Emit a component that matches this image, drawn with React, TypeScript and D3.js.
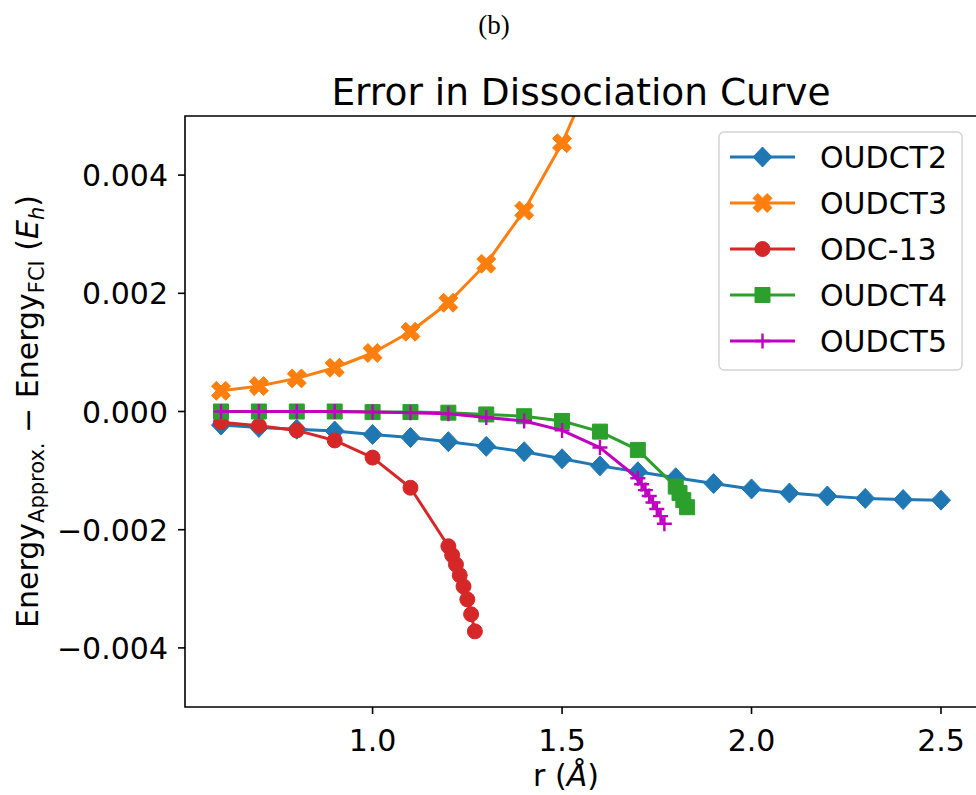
import React from 'react';
import * as d3 from 'd3';

const W = 976;
const H = 795;
const margin = { top: 116, right: -1, bottom: 88, left: 185 };

// r (Angstrom) grids
const rCoarse = [0.6, 0.7, 0.8, 0.9, 1.0, 1.1, 1.2, 1.3, 1.4, 1.5, 1.6, 1.7, 1.8, 1.9, 2.0, 2.1, 2.2, 2.3, 2.4, 2.5];

const oudct2 = [-0.00023, -0.00027, -0.0003, -0.00033, -0.00039, -0.00044, -0.00051, -0.00059, -0.00068, -0.0008,
  -0.00092, -0.00102, -0.00112, -0.00122, -0.00131, -0.00138, -0.00143, -0.00147, -0.00149, -0.0015];

const rOudct3 = [0.6, 0.7, 0.8, 0.9, 1.0, 1.1, 1.2, 1.3, 1.4, 1.5, 1.6];
const oudct3 = [0.00035, 0.00043, 0.00056, 0.00074, 0.00099, 0.00135, 0.00184, 0.0025, 0.0034, 0.00454, 0.006];

const rOdc13 = [0.6, 0.7, 0.8, 0.9, 1.0, 1.1, 1.2, 1.21, 1.22, 1.23, 1.24, 1.25, 1.26, 1.27];
const odc13 = [-0.00018, -0.00024, -0.00032, -0.00049, -0.00078, -0.00129, -0.00228, -0.00243, -0.00259, -0.00277,
  -0.00296, -0.00318, -0.00343, -0.00372];

const rOudct4 = [0.6, 0.7, 0.8, 0.9, 1.0, 1.1, 1.2, 1.3, 1.4, 1.5, 1.6, 1.7, 1.8, 1.81, 1.82, 1.83];
const oudct4 = [0, 0, 0, 0, -0.00001, -0.00001, -0.00002, -0.00005, -0.00008, -0.00016, -0.00034, -0.00065,
  -0.00127, -0.00138, -0.0015, -0.00162];

const rOudct5 = [0.6, 0.7, 0.8, 0.9, 1.0, 1.1, 1.2, 1.3, 1.4, 1.5, 1.6, 1.7, 1.71, 1.72, 1.73, 1.74, 1.75, 1.76, 1.77];
const oudct5 = [0, 0, 0, 0, -0.00001, -0.00002, -0.00004, -0.0001, -0.00016, -0.00032, -0.00061, -0.00113,
  -0.00123, -0.00133, -0.00143, -0.00154, -0.00165, -0.00177, -0.0019];

const xTicks = [1.0, 1.5, 2.0, 2.5];
const yTicks = [-0.004, -0.002, 0, 0.002, 0.004];

type Marker = 'diamond' | 'x' | 'circle' | 'square' | 'plus';

const series: { name: string; color: string; marker: Marker; r: number[]; v: number[] }[] = [
  { name: 'OUDCT2', color: '#1f77b4', marker: 'diamond', r: rCoarse, v: oudct2 },
  { name: 'OUDCT3', color: '#ff7f0e', marker: 'x', r: rOudct3, v: oudct3 },
  { name: 'ODC-13', color: '#d62728', marker: 'circle', r: rOdc13, v: odc13 },
  { name: 'OUDCT4', color: '#2ca02c', marker: 'square', r: rOudct4, v: oudct4 },
  { name: 'OUDCT5', color: '#bf00bf', marker: 'plus', r: rOudct5, v: oudct5 },
];

// filled "X": a thick plus rotated by 45 degrees
function xPath(L: number, w: number): string {
  const pts: [number, number][] = [
    [w, -L], [w, -w], [L, -w], [L, w], [w, w], [w, L],
    [-w, L], [-w, w], [-L, w], [-L, -w], [-w, -w], [-w, -L],
  ];
  const c = Math.SQRT1_2;
  return 'M' + pts.map(([px, py]) => `${(px - py) * c},${(px + py) * c}`).join('L') + 'Z';
}

function markerPath(m: Marker): string {
  switch (m) {
    case 'diamond':
      return 'M0,-10L9.5,0L0,10L-9.5,0Z';
    case 'square':
      return 'M-7.5,-7.5H7.5V7.5H-7.5Z';
    case 'circle':
      return d3.symbol(d3.symbolCircle, Math.PI * 7.5 * 7.5)() as string;
    case 'x':
      return xPath(10, 3.4);
    case 'plus':
      return 'M-7.5,0H7.5M0,-7.5V7.5';
  }
}

function MarkerShape({ m, color, x, y }: { m: Marker; color: string; x: number; y: number }) {
  const d = markerPath(m);
  if (m === 'plus') {
    return <path d={d} transform={`translate(${x},${y})`} fill="none" stroke={color} strokeWidth={2.4} />;
  }
  return <path d={d} transform={`translate(${x},${y})`} fill={color} stroke={color} strokeWidth={1} />;
}

export default function App() {
  const x = d3.scaleLinear().domain([0.505, 2.595]).range([margin.left, W - margin.right]);
  const y = d3.scaleLinear().domain([-0.005, 0.005]).range([H - margin.bottom, margin.top]);
  const fmtY = d3.format('.3f');
  const fmtX = d3.format('.1f');
  const font = "'DejaVu Sans', sans-serif";
  const left = margin.left, right = W - margin.right, top = margin.top, bottom = H - margin.bottom;

  const line = d3.line<[number, number]>().x(d => x(d[0])).y(d => y(d[1]));

  const legendRows = [157, 203, 249, 295, 341];

  return (
    <svg width={W} height={H} style={{ position: 'absolute', left: 0, top: 0, background: '#fff' }} fontFamily={font}>
      <rect x={0} y={0} width={W} height={H} fill="#fff" />
      <defs>
        <clipPath id="plot">
          <rect x={left} y={top} width={right - left} height={bottom - top} />
        </clipPath>
      </defs>

      <text x={494} y={34} textAnchor="middle" fontFamily="'Liberation Serif', serif" fontSize={27}>(b)</text>

      <text x={581} y={105} textAnchor="middle" fontSize={37.5}>Error in Dissociation Curve</text>

      <g clipPath="url(#plot)">
        {series.map(s => (
          <g key={s.name}>
            <path d={line(s.r.map((r, i) => [r, s.v[i]] as [number, number])) as string}
              fill="none" stroke={s.color} strokeWidth={3} strokeLinejoin="round" />
            {s.r.map((r, i) => (
              <MarkerShape key={i} m={s.marker} color={s.color} x={x(r)} y={y(s.v[i])} />
            ))}
          </g>
        ))}
      </g>

      {/* spines */}
      <path d={`M${right},${top}H${left}V${bottom}H${right}`} fill="none" stroke="#000" strokeWidth={1.6} />

      {/* y axis */}
      {yTicks.map(t => (
        <g key={t}>
          <line x1={left - 7} x2={left} y1={y(t)} y2={y(t)} stroke="#000" strokeWidth={1.6} />
          <text x={left - 17} y={y(t) + 11} textAnchor="end" fontSize={30}>{fmtY(t)}</text>
        </g>
      ))}

      {/* x axis */}
      {xTicks.map(t => (
        <g key={t}>
          <line x1={x(t)} x2={x(t)} y1={bottom} y2={bottom + 7} stroke="#000" strokeWidth={1.6} />
          <text x={x(t)} y={bottom + 44} textAnchor="middle" fontSize={30}>{fmtX(t)}</text>
        </g>
      ))}

      <text x={566} y={786} textAnchor="middle" fontSize={30}>
        r (<tspan fontStyle="italic">Å</tspan>)
      </text>

      <text transform={`translate(38,${(top + bottom) / 2}) rotate(-90)`} textAnchor="middle" fontSize={30}>
        Energy<tspan fontSize={21} dy={6}>Approx.</tspan>
        <tspan dy={-6}> − Energy</tspan>
        <tspan fontSize={21} dy={6}>FCI</tspan>
        <tspan dy={-6}> (</tspan>
        <tspan fontStyle="italic">E</tspan>
        <tspan fontStyle="italic" fontSize={21} dy={6}>h</tspan>
        <tspan dy={-6}>)</tspan>
      </text>

      {/* legend */}
      <rect x={719} y={132} width={243} height={238} rx={5} fill="#fff" fillOpacity={0.8} stroke="#d4d4d4" strokeWidth={1.5} />
      {series.map((s, i) => (
        <g key={s.name}>
          <line x1={730} x2={795} y1={legendRows[i]} y2={legendRows[i]} stroke={s.color} strokeWidth={3} />
          <MarkerShape m={s.marker} color={s.color} x={762.5} y={legendRows[i]} />
          <text x={820} y={legendRows[i] + 11} fontSize={30}>{s.name}</text>
        </g>
      ))}
    </svg>
  );
}
